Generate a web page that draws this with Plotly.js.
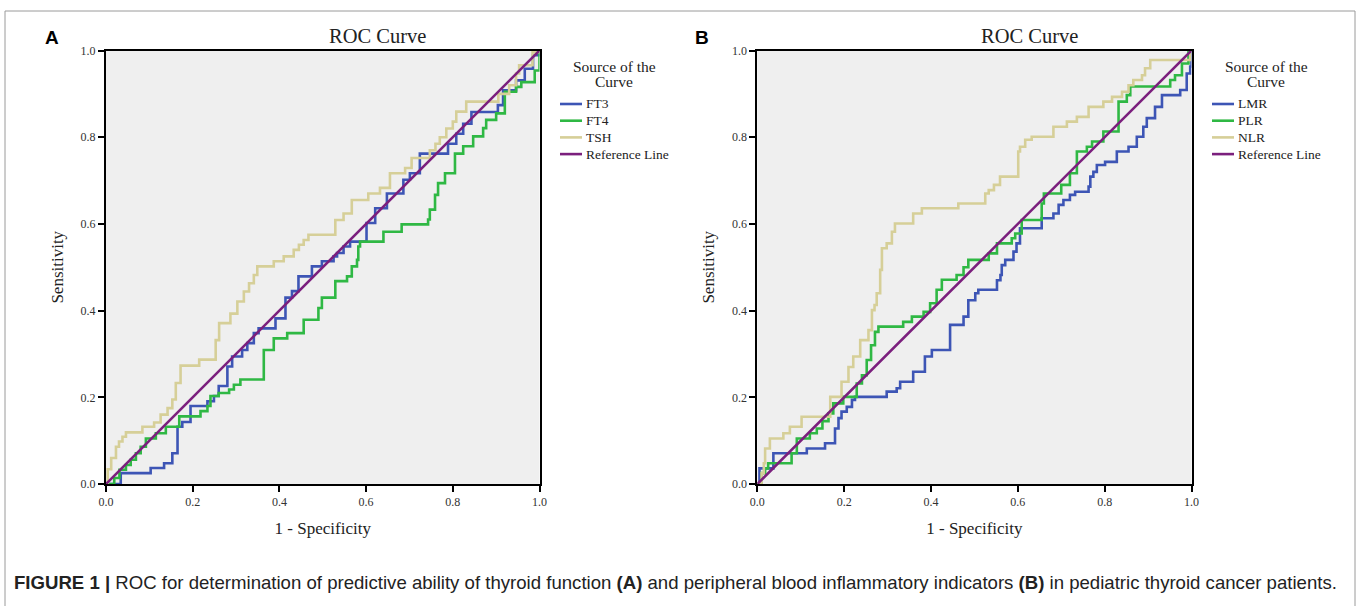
<!DOCTYPE html>
<html>
<head>
<meta charset="utf-8">
<script src="https://cdn.plot.ly/plotly-3.0.1.min.js"></script>
<style>html,body{margin:0;padding:0;background:#fff;}#chart{width:1360px;height:606px;}</style>
</head>
<body>
<div id="chart"></div>
<script>
// ---------- Panel A: thyroid function ----------
const ft3_fpr = [0, 0.034, 0.103, 0.134, 0.153, 0.165, 0.176, 0.195, 0.234, 0.249, 0.26, 0.28, 0.291, 0.314, 0.326, 0.341, 0.352, 0.391, 0.414, 0.429, 0.444, 0.475, 0.498, 0.525, 0.533, 0.548, 0.563, 0.601, 0.621, 0.648, 0.686, 0.701, 0.724, 0.789, 0.808, 0.824, 0.843, 0.904, 0.916, 0.946, 0.966, 0.985, 1.0];
const ft3_tpr = [0, 0.025, 0.037, 0.048, 0.071, 0.132, 0.143, 0.18, 0.191, 0.203, 0.226, 0.271, 0.294, 0.309, 0.325, 0.348, 0.359, 0.382, 0.43, 0.445, 0.479, 0.502, 0.514, 0.525, 0.533, 0.548, 0.559, 0.602, 0.636, 0.67, 0.702, 0.717, 0.762, 0.785, 0.808, 0.831, 0.858, 0.874, 0.908, 0.931, 0.958, 0.989, 1.0];

const ft4_fpr = [0, 0.019, 0.031, 0.046, 0.057, 0.069, 0.08, 0.092, 0.115, 0.138, 0.169, 0.218, 0.234, 0.241, 0.26, 0.284, 0.295, 0.31, 0.364, 0.387, 0.418, 0.456, 0.49, 0.498, 0.529, 0.556, 0.567, 0.579, 0.582, 0.586, 0.64, 0.682, 0.743, 0.747, 0.759, 0.766, 0.782, 0.805, 0.824, 0.847, 0.87, 0.877, 0.9, 0.92, 0.946, 0.958, 0.989, 1.0];
const ft4_tpr = [0, 0.014, 0.033, 0.044, 0.056, 0.071, 0.086, 0.105, 0.117, 0.132, 0.156, 0.168, 0.18, 0.203, 0.21, 0.218, 0.229, 0.241, 0.309, 0.336, 0.348, 0.379, 0.406, 0.43, 0.468, 0.479, 0.502, 0.517, 0.548, 0.559, 0.582, 0.599, 0.61, 0.633, 0.667, 0.694, 0.717, 0.762, 0.779, 0.802, 0.821, 0.84, 0.855, 0.905, 0.916, 0.927, 0.954, 1.0];

const tsh_fpr = [0, 0.004, 0.012, 0.023, 0.03, 0.038, 0.046, 0.084, 0.111, 0.126, 0.142, 0.153, 0.161, 0.172, 0.215, 0.253, 0.261, 0.287, 0.303, 0.318, 0.33, 0.341, 0.349, 0.387, 0.41, 0.433, 0.445, 0.456, 0.467, 0.529, 0.548, 0.567, 0.605, 0.632, 0.655, 0.69, 0.705, 0.747, 0.76, 0.77, 0.785, 0.8, 0.808, 0.831, 0.905, 0.93, 0.946, 0.953, 0.984, 1.0];
const tsh_tpr = [0, 0.034, 0.06, 0.086, 0.098, 0.109, 0.119, 0.132, 0.142, 0.16, 0.175, 0.195, 0.233, 0.273, 0.287, 0.332, 0.371, 0.393, 0.421, 0.444, 0.463, 0.482, 0.502, 0.514, 0.525, 0.54, 0.552, 0.563, 0.575, 0.609, 0.624, 0.655, 0.67, 0.683, 0.717, 0.729, 0.752, 0.77, 0.785, 0.8, 0.82, 0.836, 0.859, 0.882, 0.9, 0.92, 0.947, 0.966, 0.996, 1.0];

// ---------- Panel B: inflammatory indicators ----------
const lmr_fpr = [0, 0.005, 0.037, 0.114, 0.156, 0.179, 0.187, 0.194, 0.206, 0.218, 0.225, 0.298, 0.321, 0.329, 0.359, 0.386, 0.402, 0.444, 0.475, 0.486, 0.502, 0.509, 0.552, 0.56, 0.563, 0.571, 0.59, 0.597, 0.605, 0.655, 0.682, 0.694, 0.705, 0.72, 0.732, 0.763, 0.767, 0.774, 0.782, 0.801, 0.828, 0.855, 0.874, 0.889, 0.897, 0.916, 0.932, 0.974, 0.989, 0.997, 1.0];
const lmr_tpr = [0, 0.036, 0.071, 0.082, 0.094, 0.128, 0.152, 0.167, 0.178, 0.194, 0.201, 0.213, 0.221, 0.236, 0.259, 0.294, 0.309, 0.367, 0.386, 0.424, 0.44, 0.448, 0.47, 0.482, 0.505, 0.517, 0.536, 0.555, 0.59, 0.613, 0.624, 0.644, 0.655, 0.667, 0.674, 0.686, 0.709, 0.72, 0.736, 0.743, 0.767, 0.778, 0.801, 0.824, 0.844, 0.87, 0.897, 0.909, 0.947, 0.963, 1.0];

const plr_fpr = [0, 0.01, 0.018, 0.025, 0.079, 0.091, 0.121, 0.137, 0.15, 0.164, 0.175, 0.198, 0.229, 0.241, 0.252, 0.262, 0.271, 0.279, 0.336, 0.356, 0.383, 0.398, 0.413, 0.425, 0.459, 0.475, 0.486, 0.533, 0.552, 0.586, 0.594, 0.609, 0.655, 0.66, 0.7, 0.72, 0.736, 0.759, 0.771, 0.797, 0.832, 0.851, 0.859, 0.951, 0.962, 0.978, 0.993, 1.0];
const plr_tpr = [0, 0.025, 0.036, 0.048, 0.071, 0.105, 0.117, 0.128, 0.145, 0.163, 0.186, 0.201, 0.232, 0.251, 0.286, 0.32, 0.351, 0.363, 0.374, 0.386, 0.397, 0.417, 0.448, 0.471, 0.482, 0.5, 0.517, 0.532, 0.555, 0.567, 0.578, 0.609, 0.647, 0.67, 0.69, 0.717, 0.767, 0.778, 0.79, 0.813, 0.882, 0.897, 0.917, 0.932, 0.943, 0.97, 1.0, 1.0];

const nlr_fpr = [0, 0.01, 0.015, 0.018, 0.029, 0.06, 0.075, 0.102, 0.168, 0.194, 0.21, 0.221, 0.237, 0.256, 0.264, 0.27, 0.275, 0.283, 0.287, 0.298, 0.31, 0.317, 0.359, 0.379, 0.463, 0.525, 0.533, 0.545, 0.559, 0.601, 0.605, 0.617, 0.632, 0.682, 0.713, 0.736, 0.763, 0.797, 0.817, 0.84, 0.855, 0.866, 0.886, 0.893, 0.905, 0.997];
const nlr_tpr = [0, 0.025, 0.048, 0.082, 0.105, 0.117, 0.132, 0.155, 0.201, 0.236, 0.27, 0.294, 0.332, 0.355, 0.401, 0.413, 0.44, 0.494, 0.544, 0.555, 0.582, 0.601, 0.624, 0.636, 0.647, 0.67, 0.678, 0.69, 0.709, 0.767, 0.778, 0.794, 0.801, 0.824, 0.836, 0.847, 0.87, 0.882, 0.893, 0.905, 0.92, 0.932, 0.943, 0.959, 0.978, 1.0];

const refLine = [0, 1];
const tickVals = [0, 0.2, 0.4, 0.6, 0.8, 1.0];
const tickText = ['0.0', '0.2', '0.4', '0.6', '0.8', '1.0'];
const panelTitle = 'ROC Curve';
const xTitle = '1 - Specificity';
const yTitle = 'Sensitivity';
const legendTitleLines = ['Source of the', 'Curve'];
const legendNamesA = ['FT3', 'FT4', 'TSH', 'Reference Line'];
const legendNamesB = ['LMR', 'PLR', 'NLR', 'Reference Line'];
const caption = '<b>FIGURE 1 |</b> ROC for determination of predictive ability of thyroid function <b>(A)</b> and peripheral blood inflammatory indicators <b>(B)</b> in pediatric thyroid cancer patients.';

const C_BLUE = '#3d55b5', C_GREEN = '#2fb844', C_TAN = '#d6cf98', C_PURPLE = '#7b1f7d';
const legendColors = [C_BLUE, C_GREEN, C_TAN, C_PURPLE];
const LW = 2.6;
const serif = 'Liberation Serif, DejaVu Serif, serif';

function curve(x, y, name, color, xa, ya) {
  return {x: x, y: y, name: name, type: 'scatter', mode: 'lines',
    line: {color: color, width: LW, shape: 'hv'}, xaxis: xa, yaxis: ya};
}
function ref(xa, ya) {
  return {x: refLine, y: refLine, name: 'Reference Line', type: 'scatter', mode: 'lines',
    line: {color: C_PURPLE, width: LW}, xaxis: xa, yaxis: ya};
}

const data = [
  curve(ft3_fpr, ft3_tpr, legendNamesA[0], C_BLUE, 'x', 'y'),
  curve(ft4_fpr, ft4_tpr, legendNamesA[1], C_GREEN, 'x', 'y'),
  curve(tsh_fpr, tsh_tpr, legendNamesA[2], C_TAN, 'x', 'y'),
  ref('x', 'y'),
  curve(lmr_fpr, lmr_tpr, legendNamesB[0], C_BLUE, 'x2', 'y2'),
  curve(plr_fpr, plr_tpr, legendNamesB[1], C_GREEN, 'x2', 'y2'),
  curve(nlr_fpr, nlr_tpr, legendNamesB[2], C_TAN, 'x2', 'y2'),
  ref('x2', 'y2')
];

const W = 1360, H = 606;
const px = v => v / W, py = v => 1 - v / H;

function axisBase(extra) {
  return Object.assign({
    range: [0, 1], showgrid: false, zeroline: false,
    showline: true, linecolor: '#000', linewidth: 2, mirror: true,
    ticks: 'outside', ticklen: 6, tickwidth: 2, tickcolor: '#000',
    tickvals: tickVals, ticktext: tickText,
    tickfont: {family: serif, size: 12, color: '#333'}, fixedrange: true
  }, extra);
}
const titleFont = {family: serif, size: 17, color: '#222'};

const annotations = [
  {text: panelTitle, xref: 'paper', yref: 'paper', x: px(377), y: py(36), xanchor: 'center', yanchor: 'middle', showarrow: false,
    font: {family: serif, size: 20.5, color: '#222'}},
  {text: panelTitle, xref: 'paper', yref: 'paper', x: px(1029), y: py(36), xanchor: 'center', yanchor: 'middle', showarrow: false,
    font: {family: serif, size: 20.5, color: '#222'}},
  {text: '<b>A</b>', xref: 'paper', yref: 'paper', x: px(52), y: py(38), xanchor: 'center', yanchor: 'middle', showarrow: false,
    font: {family: 'Liberation Sans, Arial, sans-serif', size: 19, color: '#000'}},
  {text: '<b>B</b>', xref: 'paper', yref: 'paper', x: px(702), y: py(38), xanchor: 'center', yanchor: 'middle', showarrow: false,
    font: {family: 'Liberation Sans, Arial, sans-serif', size: 19, color: '#000'}},
  {text: caption, xref: 'paper', yref: 'paper', x: px(12), y: py(582), xanchor: 'left', yanchor: 'middle',
    showarrow: false, font: {family: 'Liberation Sans, Arial, sans-serif', size: 18.6, color: '#222'}}
];
const shapes = [
  {type: 'rect', xref: 'paper', yref: 'paper', x0: px(5), x1: px(1355), y0: -0.05, y1: py(11),
    line: {color: '#9a9a9a', width: 1}, fillcolor: 'rgba(0,0,0,0)', layer: 'below'}
];

// manual legends (SPSS style)
function addLegend(names, left, center) {
  legendTitleLines.forEach((t, i) => annotations.push({
    text: t, xref: 'paper', yref: 'paper', x: px(center), y: py(67 + 15 * i), xanchor: 'center', yanchor: 'middle',
    showarrow: false, font: {family: serif, size: 15.5, color: '#222'}}));
  names.forEach((n, i) => {
    const yy = 104 + 16.7 * i;
    shapes.push({type: 'line', xref: 'paper', yref: 'paper', x0: px(left), x1: px(left + 22),
      y0: py(yy), y1: py(yy), line: {color: legendColors[i], width: LW}});
    annotations.push({text: n, xref: 'paper', yref: 'paper', x: px(left + 24), y: py(yy),
      xanchor: 'left', yanchor: 'middle', showarrow: false,
      font: {family: serif, size: 13.5, color: '#222'}});
  });
}
addLegend(legendNamesA, 560, 614);
addLegend(legendNamesB, 1212, 1266);

const yDom = [py(484), py(50.5)];
const layout = {
  width: W, height: H, margin: {l: 0, r: 0, t: 0, b: 0},
  paper_bgcolor: '#fff', plot_bgcolor: '#efefef', showlegend: false,
  xaxis: axisBase({domain: [px(106), px(539.5)], anchor: 'y',
    title: {text: xTitle, font: titleFont, standoff: 14}}),
  yaxis: axisBase({domain: yDom, anchor: 'x',
    title: {text: yTitle, font: titleFont, standoff: 13}}),
  xaxis2: axisBase({domain: [px(757.3), px(1191.5)], anchor: 'y2',
    title: {text: xTitle, font: titleFont, standoff: 14}}),
  yaxis2: axisBase({domain: yDom, anchor: 'x2',
    title: {text: yTitle, font: titleFont, standoff: 13}}),
  annotations: annotations,
  shapes: shapes
};

Plotly.newPlot('chart', data, layout, {staticPlot: true, displayModeBar: false});
</script>
</body>
</html>
